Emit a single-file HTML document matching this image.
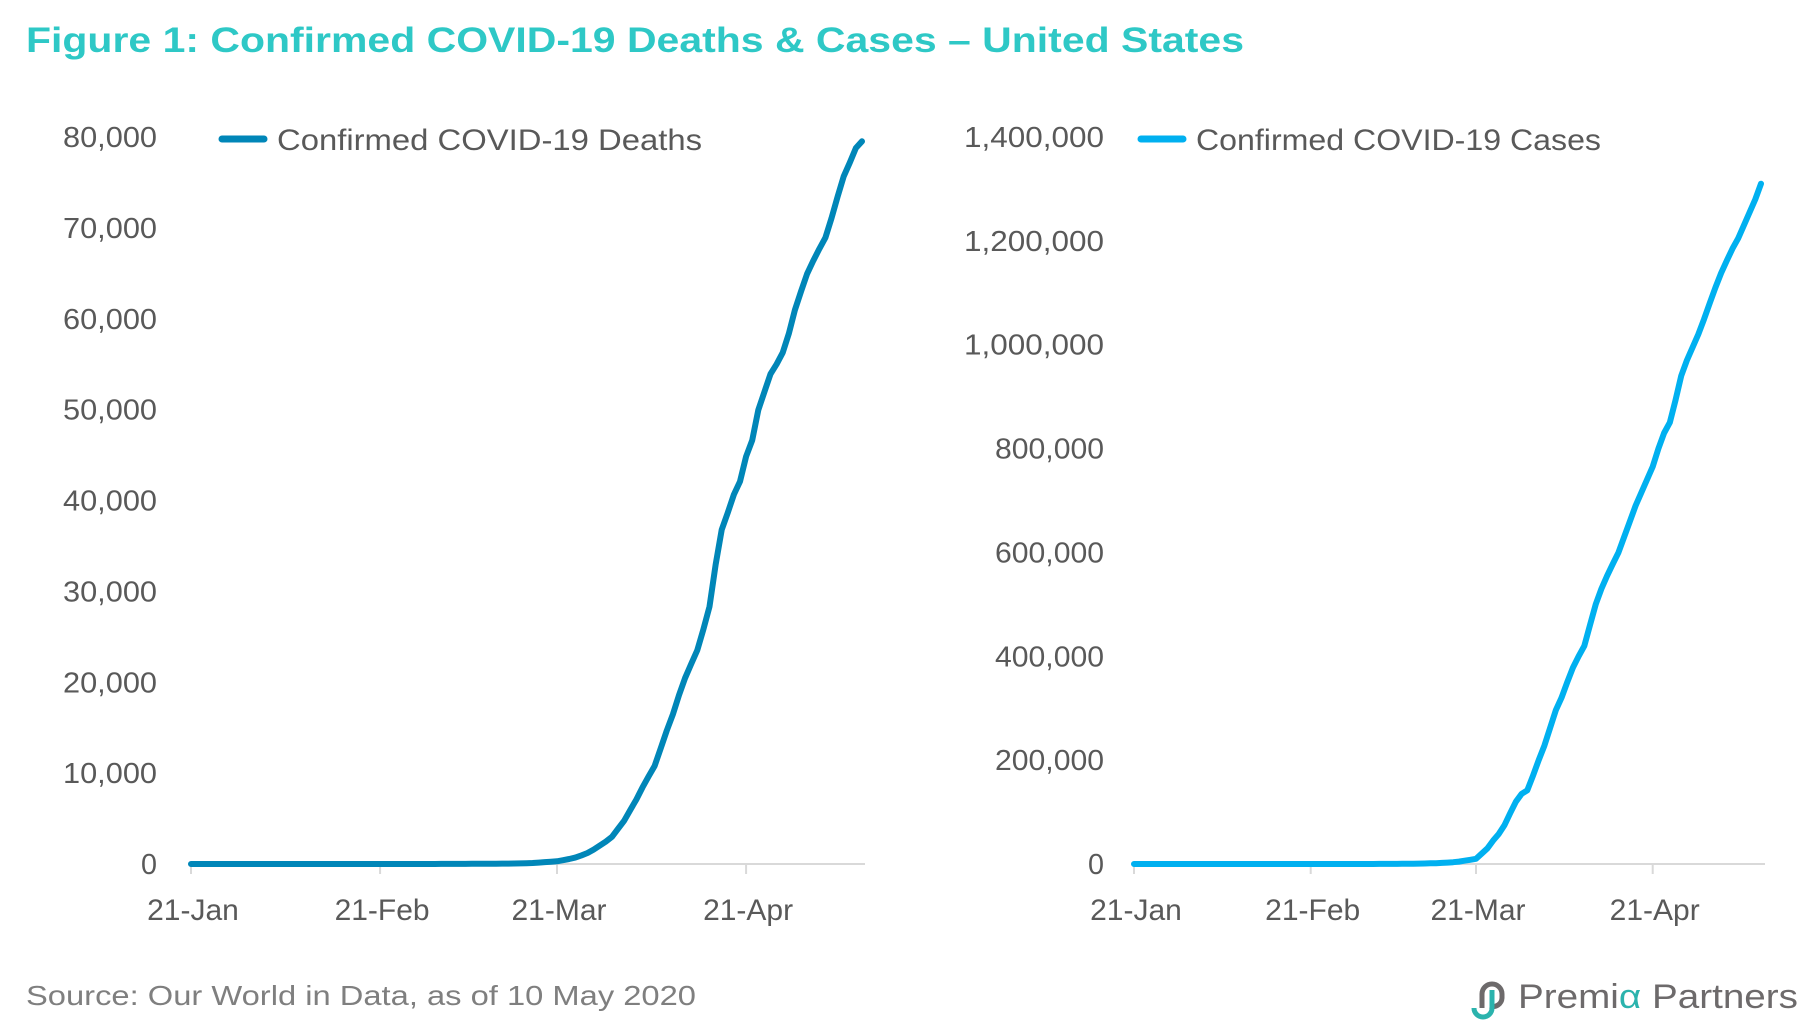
<!DOCTYPE html>
<html><head><meta charset="utf-8"><style>
html,body{margin:0;padding:0;background:#fff;}
svg{display:block;font-family:"Liberation Sans",sans-serif;}
</style></head><body>
<svg id="fig" width="1810" height="1029" viewBox="0 0 1810 1029">
<text x="26" y="52" font-size="35" font-weight="bold" fill="#2ec8c6" textLength="1218" lengthAdjust="spacingAndGlyphs">Figure 1: Confirmed COVID-19 Deaths &amp; Cases – United States</text>
<text x="26" y="1005" font-size="28" fill="#7f7f7f" textLength="670" lengthAdjust="spacingAndGlyphs">Source: Our World in Data, as of 10 May 2020</text>
<g>
<path d="M1482 1008 v-14 a10 10 0 0 1 20 0 v4 a9 9 0 0 1 -12 8" fill="none" stroke="#6d6a6b" stroke-width="5"/>
<path d="M1492 990 v18 a9 9 0 0 1 -18 0" fill="none" stroke="#2bb3ad" stroke-width="5"/>
<text x="1518" y="1008" font-size="34" fill="#6d6a6b" textLength="280" lengthAdjust="spacingAndGlyphs">Premi<tspan fill="#2bb3ad">α</tspan> Partners</text>
</g>
<g id="left"></g>
<g id="right"></g>
</svg>
<script>
const tickDates = ["21-Jan","21-Feb","21-Mar","21-Apr"];
const tickDays = [0,31,60,91];
const deathTicks = [0,10000,20000,30000,40000,50000,60000,70000,80000];
const caseTicks = [0,200000,400000,600000,800000,1000000,1200000,1400000];
const deathsEarly = new Array(40).fill(0);
const deathsLate = [1,6,9,11,12,15,19,22,26,30,38,41,48,57,68,86,109,150,207,256,302,414,553,706,942,1209,1581,2026,2467,2978,3873,
4757,5926,7087,8407,9619,10783,12722,14695,16478,18586,20463,22020,23529,25831,28325,32916,36773,38664,40661,42094,44845,46622,49954,51949,53922,55000,56259,58355,60967,62996,
64943,66369,67682,68922,71064,73431,75662,77180,78795,79528];
const deaths = deathsEarly.concat(deathsLate);
const casesEarly = [1,1,1,2,5,5,5,5,5,6,7,8,11,11,11,12,12,12,12,12,13,13,14,14,15,15,15,15,15,15,15,15,15,15,15,15,25,25,25,30,
30,62,75,100,124,158,221,319,435,541,704,994,1301,1630,2183];
const casesLate = [2700,3500,4600,6400,8000,10000,20000,30000,45000,58000,75000,98000,120000,135000,142000,170000,200000,228000,262000,296000,320000,350000,378000,400000,420000,460000,500000,530000,555000,578000,600000,630000,660000,690000,715000,740000,765000,800000,830000,850000,893000,940000,970000,995000,1020000,1049000,1080000,1110000,1138000,1162000,1185000,1205000,1230000,1255000,1280000,1310000];
const cases = casesEarly.concat(casesLate);

const NS="http://www.w3.org/2000/svg";
function mk(tag,attrs,parent){const e=document.createElementNS(NS,tag);for(const k in attrs)e.setAttribute(k,attrs[k]);parent.appendChild(e);return e;}
function fmt(v){return v.toLocaleString("en-US");}

function chart(g,cfg){
  const x=d=>cfg.x0+d*cfg.dx;
  const y=v=>cfg.y0-(v/cfg.ymax)*(cfg.y0-cfg.ytop);
  cfg.yticks.forEach(t=>{
    const s=fmt(t);
    const tx=mk("text",{x:cfg.labelX,y:y(t)+10,"font-size":29,fill:"#595959","text-anchor":"end",textLength:(s.length*15.6).toFixed(0),lengthAdjust:"spacingAndGlyphs"},g);
    tx.textContent=s;
    
    
  });
  const ax=mk("line",{x1:cfg.x0-2,x2:cfg.xend,y1:cfg.y0,y2:cfg.y0,stroke:"#d9d9d9","stroke-width":2},g);
  
  
  tickDays.forEach((d,i)=>{
    const tk=mk("line",{x1:x(d),x2:x(d),y1:cfg.y0,y2:cfg.y0+10,stroke:"#d9d9d9","stroke-width":2},g);
    
    
    const tl=mk("text",{x:x(d)+2,y:cfg.y0+56,"font-size":30,fill:"#595959","text-anchor":"middle"},g);
    tl.textContent=tickDates[i];
    
    
  });
  const pts=cfg.data.map((v,i)=>x(i).toFixed(1)+","+y(v).toFixed(1)).join(" ");
  const pl=mk("polyline",{points:pts,fill:"none",stroke:cfg.color,"stroke-width":6,"stroke-linejoin":"round","stroke-linecap":"round"},g);
  
  
  const lg=mk("line",{x1:cfg.legX,x2:cfg.legX+42,y1:139,y2:139,stroke:cfg.color,"stroke-width":7,"stroke-linecap":"round"},g);
  
  
  const lt=mk("text",{x:cfg.legX+55,y:150,"font-size":30,fill:"#595959",textLength:cfg.legW,lengthAdjust:"spacingAndGlyphs"},g);
  lt.textContent=cfg.legend;
  
  
}
chart(document.getElementById("left"),{x0:191,dx:6.1,xend:865,y0:864,ytop:137,ymax:80000,yticks:deathTicks,labelX:157,data:deaths,color:"#0086b8",legX:222,legW:425,legend:"Confirmed COVID-19 Deaths",name:"deaths"});
chart(document.getElementById("right"),{x0:1134,dx:5.7,xend:1765,y0:864,ytop:137,ymax:1400000,yticks:caseTicks,labelX:1104,data:cases,color:"#00b0f0",legX:1141,legW:405,legend:"Confirmed COVID-19 Cases",name:"cases"});
</script>
</body></html>
